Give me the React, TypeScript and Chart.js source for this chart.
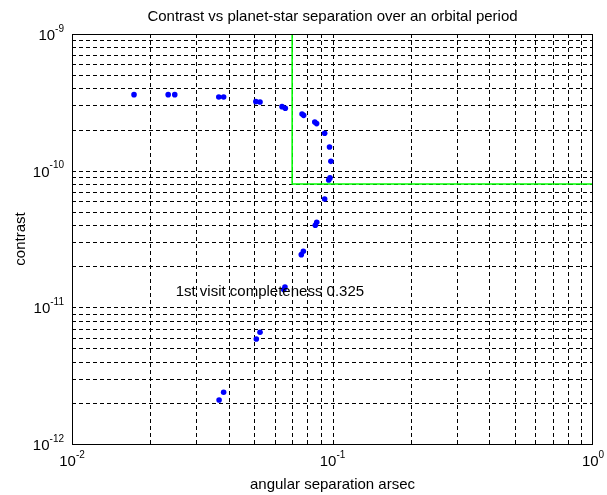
import React, { useEffect, useRef } from "react";
import { Chart, registerables } from "chart.js";

Chart.register(...registerables);

// ---- data ----
const separationArcsec = [
  0.0173, 0.0234, 0.0248, 0.0366, 0.0382, 0.0508, 0.0527, 0.064, 0.0659,
  0.0764, 0.0775, 0.0855, 0.0869, 0.0933, 0.0974, 0.0986, 0.0978, 0.0967,
  0.0933, 0.087, 0.0859, 0.0773, 0.0759, 0.0657, 0.065, 0.0527, 0.051,
  0.0382, 0.0367,
];
const contrastValues = [
  3.6e-10, 3.6e-10, 3.6e-10, 3.46e-10, 3.46e-10, 3.2e-10, 3.18e-10, 2.94e-10,
  2.86e-10, 2.6e-10, 2.54e-10, 2.27e-10, 2.21e-10, 1.88e-10, 1.49e-10,
  1.17e-10, 8.85e-11, 8.55e-11, 6.2e-11, 4.19e-11, 3.99e-11, 2.57e-11,
  2.43e-11, 1.41e-11, 1.35e-11, 6.58e-12, 5.87e-12, 2.39e-12, 2.1e-12,
];
const limitX = [0.07, 0.07, 1];
const limitY = [1e-9, 8e-11, 8e-11];

const xMajorTicks = [0.01, 0.1, 1];
const xTickExponents = ["-2", "-1", "0"];
const yMajorTicks = [1e-12, 1e-11, 1e-10, 1e-9];
const yTickExponents = ["-12", "-11", "-10", "-9"];
const xDecades = [0.01, 0.1];
const yDecades = [1e-12, 1e-11, 1e-10];
const minorMultipliers = [1, 2, 3, 4, 5, 6, 7, 8, 9];

const titleText = "Contrast vs planet-star separation over an orbital period";
const xLabelText = "angular separation arsec";
const yLabelText = "contrast";
const annotationText = "1st visit completeness 0.325";
const annotationX = 0.025;
const annotationY = 1.3e-11;

const FONT = '"Liberation Sans", Arial, Helvetica, sans-serif';

const matlabAxes = {
  id: "matlabAxes",
  beforeDatasetsDraw(chart: any) {
    const { ctx, chartArea: a, scales } = chart;
    const x = scales.x;
    const y = scales.y;
    ctx.save();
    ctx.strokeStyle = "#000";
    ctx.lineWidth = 1;
    ctx.setLineDash([4, 3]);
    xDecades.forEach((d) =>
      minorMultipliers.forEach((m) => {
        const px = Math.round(x.getPixelForValue(m * d)) + 0.5;
        if (px <= a.left + 1 || px >= a.right - 1) return;
        ctx.beginPath();
        ctx.moveTo(px, a.bottom);
        ctx.lineTo(px, a.top);
        ctx.stroke();
      })
    );
    yDecades.forEach((d) =>
      minorMultipliers.forEach((m) => {
        const py = Math.round(y.getPixelForValue(m * d)) + 0.5;
        if (py <= a.top + 1 || py >= a.bottom - 1) return;
        ctx.beginPath();
        ctx.moveTo(a.left, py);
        ctx.lineTo(a.right, py);
        ctx.stroke();
      })
    );
    ctx.restore();
  },
  afterDatasetsDraw(chart: any) {
    const { ctx, chartArea: a, scales } = chart;
    const x = scales.x;
    const y = scales.y;
    ctx.save();
    // box
    ctx.setLineDash([]);
    ctx.strokeStyle = "#000";
    ctx.lineWidth = 1;
    ctx.strokeRect(
      Math.round(a.left) + 0.5,
      Math.round(a.top) + 0.5,
      Math.round(a.right - a.left) - 1,
      Math.round(a.bottom - a.top)
    );
    ctx.fillStyle = "#000";
    ctx.textBaseline = "alphabetic";
    const baseFont = `15px ${FONT}`;
    const expFont = `10px ${FONT}`;
    // x tick labels
    xMajorTicks.forEach((v, i) => {
      const px = x.getPixelForValue(v);
      ctx.font = baseFont;
      const bw = ctx.measureText("10").width;
      ctx.font = expFont;
      const ew = ctx.measureText(xTickExponents[i]).width;
      const start = px - (bw + ew) / 2;
      ctx.textAlign = "left";
      ctx.font = baseFont;
      ctx.fillText("10", start, a.bottom + 22);
      ctx.font = expFont;
      ctx.fillText(xTickExponents[i], start + bw, a.bottom + 13.5);
    });
    // y tick labels
    yMajorTicks.forEach((v, i) => {
      const py = y.getPixelForValue(v);
      ctx.font = baseFont;
      const bw = ctx.measureText("10").width;
      ctx.font = expFont;
      const ew = ctx.measureText(yTickExponents[i]).width;
      const start = a.left - 8 - (bw + ew);
      ctx.textAlign = "left";
      ctx.font = baseFont;
      ctx.fillText("10", start, py + 6);
      ctx.font = expFont;
      ctx.fillText(yTickExponents[i], start + bw, py - 2.4);
    });
    // title
    ctx.font = `15px ${FONT}`;
    ctx.textAlign = "center";
    ctx.fillText(titleText, (a.left + a.right) / 2, 21);
    // x label
    ctx.fillText(xLabelText, (a.left + a.right) / 2, 489);
    // y label
    ctx.save();
    ctx.translate(25, (a.top + a.bottom) / 2);
    ctx.rotate(-Math.PI / 2);
    ctx.fillText(yLabelText, 0, 0);
    ctx.restore();
    // annotation
    ctx.textAlign = "left";
    ctx.textBaseline = "middle";
    ctx.fillText(
      annotationText,
      x.getPixelForValue(annotationX),
      y.getPixelForValue(annotationY)
    );
    ctx.restore();
  },
};

export default function App() {
  const canvasRef = useRef<HTMLCanvasElement | null>(null);

  useEffect(() => {
    if (!canvasRef.current) return;
    const points = separationArcsec.map((s, i) => ({ x: s, y: contrastValues[i] }));
    const limit = limitX.map((v, i) => ({ x: v, y: limitY[i] }));
    const chart = new Chart(canvasRef.current, {
      type: "scatter",
      data: {
        datasets: [
          {
            data: points,
            backgroundColor: "#0000ff",
            borderWidth: 0,
            pointRadius: 2.8,
            pointHoverRadius: 2.8,
          },
          {
            data: limit,
            showLine: true,
            borderColor: "#00ff00",
            borderWidth: 1.5,
            pointRadius: 0,
            fill: false,
          } as any,
        ],
      },
      options: {
        animation: false,
        responsive: false,
        devicePixelRatio: 1,
        events: [],
        layout: { padding: { left: 72, top: 34, right: 14, bottom: 51 } },
        plugins: {
          legend: { display: false },
          tooltip: { enabled: false },
          title: { display: false },
        },
        scales: {
          x: { type: "logarithmic", min: 0.01, max: 1, display: false },
          y: { type: "logarithmic", min: 1e-12, max: 1e-9, display: false },
        },
      },
      plugins: [matlabAxes],
    });
    return () => chart.destroy();
  }, []);

  return (
    <canvas
      ref={canvasRef}
      width={607}
      height={495}
      style={{ position: "absolute", left: 0, top: 0, width: 607, height: 495 }}
    />
  );
}
